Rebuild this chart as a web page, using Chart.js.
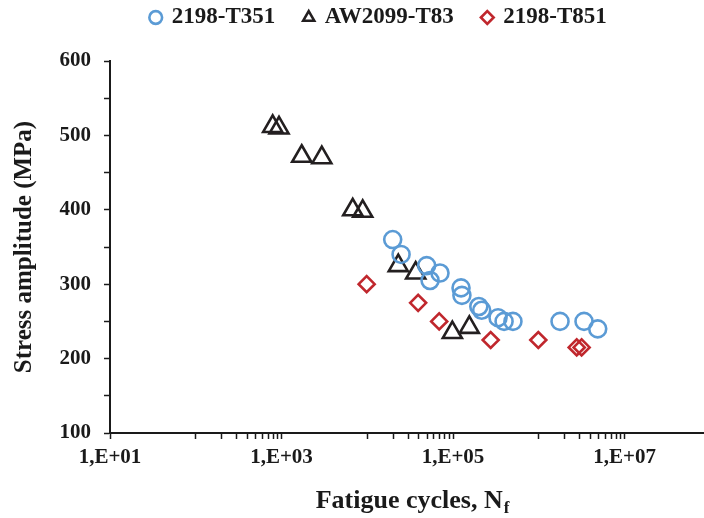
<!DOCTYPE html>
<html>
<head>
<meta charset="utf-8">
<script src="https://cdn.jsdelivr.net/npm/chart.js@4.4.1/dist/chart.umd.min.js"></script>
<style>
  html, body { margin: 0; padding: 0; background: #fff; overflow: hidden; }
  #wrap { width: 704px; height: 518px; position: relative; }
</style>
</head>
<body>
<div id="wrap"><canvas id="sn"></canvas></div>
<script>
// S-N data
const t351Cycles = [19800, 24800, 49300, 70500, 54000, 124000, 127000, 200000, 216000, 335000, 394000, 500000, 1770000, 3370000, 4870000];
const t351Stress = [360, 340, 325, 315, 305, 295, 285, 270, 265, 255, 250, 250, 250, 250, 240];

const aw2099Cycles = [789, 935, 1720, 2950, 6770, 8850, 23000, 36700, 98200, 155000];
const aw2099Stress = [512, 510, 472, 470, 400, 398, 325, 315, 235, 242];

const t851Cycles = [9840, 39200, 69000, 275000, 988000, 2770000, 3160000];
const t851Stress = [300, 275, 250, 225, 225, 215, 215];

const seriesNames = ['2198-T351', 'AW2099-T83', '2198-T851'];

const xLabelValues = [1e1, 1e3, 1e5, 1e7];
const xTickLabels = ['1,E+01', '1,E+03', '1,E+05', '1,E+07'];

const X_MIN = 10;
const X_MAX = 8.45e7;   // axis runs off the right edge of the picture

const FONT = '"Liberation Serif", "Times New Roman", serif';
const INK = '#1a1a1a';

function pts(xs, ys) {
    return xs.map((x, i) => ({ x: x, y: ys[i] }));
}

// excel style ticks: every decade, minor ones only in the even decades
function xTickValues() {
    const out = [10];
    for (let e = 2; e <= 7; e += 2) {
        for (let m = 1; m <= 9; m++) out.push(m * Math.pow(10, e));
        out.push(Math.pow(10, e + 1));
    }
    return out;
}

// legend sits a bit right of centre in the original
const legendShift = {
    id: 'legendShift',
    afterLayout(chart) {
        chart.legend.left += 27;
        chart.legend.right += 27;
    }
};

const subTitle = {
    id: 'subTitle',
    afterDraw(chart) {
        const ctx = chart.ctx;
        const main = 'Fatigue cycles, N';
        const sub = 'f';
        ctx.save();
        ctx.fillStyle = INK;
        ctx.textBaseline = 'alphabetic';
        ctx.font = 'bold 26px ' + FONT;
        const w1 = ctx.measureText(main).width;
        ctx.font = 'bold 17px ' + FONT;
        const w2 = ctx.measureText(sub).width;
        const cx = 412;
        const x0 = cx - (w1 + w2) / 2;
        const base = chart.scales.x.bottom - 10;
        ctx.font = 'bold 26px ' + FONT;
        ctx.fillText(main, x0, base);
        ctx.font = 'bold 17px ' + FONT;
        ctx.fillText(sub, x0 + w1 + 1, base + 5);
        ctx.restore();
    }
};

new Chart(document.getElementById('sn'), {
    type: 'scatter',
    data: {
        datasets: [
            {
                label: seriesNames[0],
                data: pts(t351Cycles, t351Stress),
                xAxisID: 'x',
                yAxisID: 'y',
                pointStyle: 'circle',
                pointRadius: 8.5,
                pointHoverRadius: 8.5,
                borderColor: '#5b9bd5',
                backgroundColor: 'rgba(0,0,0,0)',
                borderWidth: 2.6
            },
            {
                label: seriesNames[1],
                data: pts(aw2099Cycles, aw2099Stress),
                xAxisID: 'x',
                yAxisID: 'y',
                pointStyle: 'triangle',
                pointRadius: 11,
                pointHoverRadius: 11,
                borderColor: '#231f20',
                backgroundColor: 'rgba(0,0,0,0)',
                borderWidth: 2.6
            },
            {
                label: seriesNames[2],
                data: pts(t851Cycles, t851Stress),
                xAxisID: 'x',
                yAxisID: 'y',
                pointStyle: 'rectRot',
                pointRadius: 8,
                pointHoverRadius: 8,
                borderColor: '#c0272d',
                backgroundColor: 'rgba(0,0,0,0)',
                borderWidth: 2.6
            }
        ]
    },
    options: {
        responsive: true,
        maintainAspectRatio: false,
        animation: false,
        layout: { autoPadding: false, padding: { top: -23, left: 0, right: 0, bottom: 0 } },
        plugins: {
            tooltip: { enabled: false },
            legend: {
                position: 'top',
                labels: {
                    usePointStyle: true,
                    boxWidth: 9,
                    boxHeight: 9,
                    padding: 29,
                    color: INK,
                    font: { family: FONT, size: 23, weight: 'bold' }
                }
            }
        },
        scales: {
            x: {
                type: 'logarithmic',
                position: 'bottom',
                min: X_MIN,
                max: X_MAX,
                afterFit(s) {
                    s.height = 85;
                    s.paddingRight = 0;
                    s.paddingLeft = 0;
                },
                afterBuildTicks(s) {
                    s.ticks = xTickValues().map(v => ({ value: v }));
                },
                grid: {
                    drawOnChartArea: false,
                    drawTicks: true,
                    tickLength: 6,
                    tickWidth: 1.5,
                    tickColor: INK
                },
                border: { display: true, color: INK, width: 2 },
                ticks: {
                    autoSkip: false,
                    maxRotation: 0,
                    padding: 6,
                    color: INK,
                    font: { family: FONT, size: 21, weight: 'bold' },
                    callback(v) {
                        const i = xLabelValues.findIndex(t => Math.abs(Math.log10(t) - Math.log10(v)) < 1e-6);
                        return i >= 0 ? xTickLabels[i] : '';
                    }
                },
                title: { display: false }
            },
            y: {
                min: 100,
                max: 600,
                afterFit(s) { s.width = 110; },
                grid: {
                    drawOnChartArea: false,
                    drawTicks: true,
                    tickLength: 6,
                    tickWidth: 1.5,
                    tickColor: INK
                },
                border: { display: true, color: INK, width: 2 },
                ticks: {
                    stepSize: 50,
                    padding: 13,
                    color: INK,
                    font: { family: FONT, size: 21, weight: 'bold' },
                    callback: v => (v % 100 === 0 ? String(v) : '')
                },
                title: {
                    display: true,
                    text: 'Stress amplitude (MPa)',
                    color: INK,
                    padding: { top: 10, bottom: 0 },
                    font: { family: FONT, size: 25, weight: 'bold' }
                }
            },
            gap: {
                type: 'linear',
                position: 'top',
                display: true,
                grid: { display: false },
                border: { display: false },
                ticks: { display: false },
                afterFit(s) {
                    s.height = 22;
                    s.paddingRight = 0;
                    s.paddingLeft = 0;
                }
            }
        }
    },
    plugins: [subTitle, legendShift]
});
</script>
</body>
</html>
